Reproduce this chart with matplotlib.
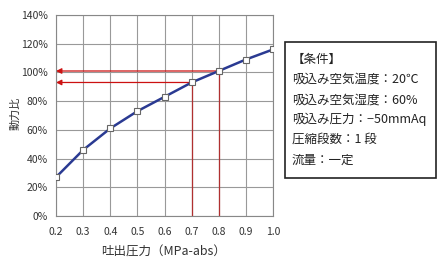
import matplotlib
matplotlib.use("Agg")
import matplotlib.pyplot as plt

plt.rcParams['font.family'] = ['Noto Sans CJK JP', 'DejaVu Sans']

pressure = [0.2, 0.3, 0.4, 0.5, 0.6, 0.7, 0.8, 0.9, 1.0]
power_ratio = [27, 46, 61, 73, 83, 93, 101, 109, 116]
xticks = [0.2, 0.3, 0.4, 0.5, 0.6, 0.7, 0.8, 0.9, 1.0]
yticks = [0, 20, 40, 60, 80, 100, 120, 140]
marked = [(0.7, 93), (0.8, 101)]
conditions = ["【条件】", "吸込み空気温度：20℃", "吸込み空気湿度：60%",
              "吸込み圧力：−50mmAq", "圧縮段数：1 段", "流量：一定"]

W, H = 446, 264
fig = plt.figure(figsize=(W/100, H/100), dpi=100)
ax = fig.add_axes([56/W, 1-216/H, (273-56)/W, (216-15)/H])
ax.set_xlim(0.2, 1.0)
ax.set_ylim(0, 140)
ax.set_xticks(xticks)
ax.set_xticklabels([f"{v:.1f}" for v in xticks])
ax.set_yticks(yticks)
ax.set_yticklabels([f"{v}%" for v in yticks])
ax.grid(True, color='#999999', lw=0.8)
for s in ax.spines.values():
    s.set_color('#888888')
    s.set_linewidth(0.8)
ax.tick_params(length=0, labelsize=7.5, colors='#333333')
ax.tick_params(axis='x', pad=8)
ax.tick_params(axis='y', pad=6)

red = '#b03030'
for xv, yv in marked:
    ax.plot([xv, xv], [0, yv], color=red, lw=0.9, zorder=2)
    ax.annotate('', xy=(0.2, yv), xytext=(xv, yv),
                arrowprops=dict(arrowstyle='-|>', color='#cc1111', lw=0.9,
                                mutation_scale=8, shrinkA=0, shrinkB=0), zorder=2)

ax.plot(pressure, power_ratio, color='#2a3a92', lw=1.8, zorder=3,
        marker='s', ms=4.5, mfc='white', mec='#666666', mew=0.8)

fig.text(164/W, 1-252/H, "吐出圧力（MPa-abs）", fontsize=9, color='#333333',
         ha='center', va='center')
fig.text(15/W, 1-113/H, "動力比", fontsize=8, color='#333333',
         ha='center', va='center', rotation=90)

# condition box
bx0, by0, bx1, by1 = 285, 42, 436, 178
box = plt.Rectangle((bx0/W, 1-by1/H), (bx1-bx0)/W, (by1-by0)/H,
                    transform=fig.transFigure, fill=False, ec='#222222', lw=1.2)
fig.add_artist(box)
ys = [59, 79, 100, 119, 139, 160]
for t, y in zip(conditions, ys):
    fig.text(292/W, 1-y/H, t, fontsize=9, color='#222222', va='center', ha='left')

fig.savefig("out.png", dpi=100)
